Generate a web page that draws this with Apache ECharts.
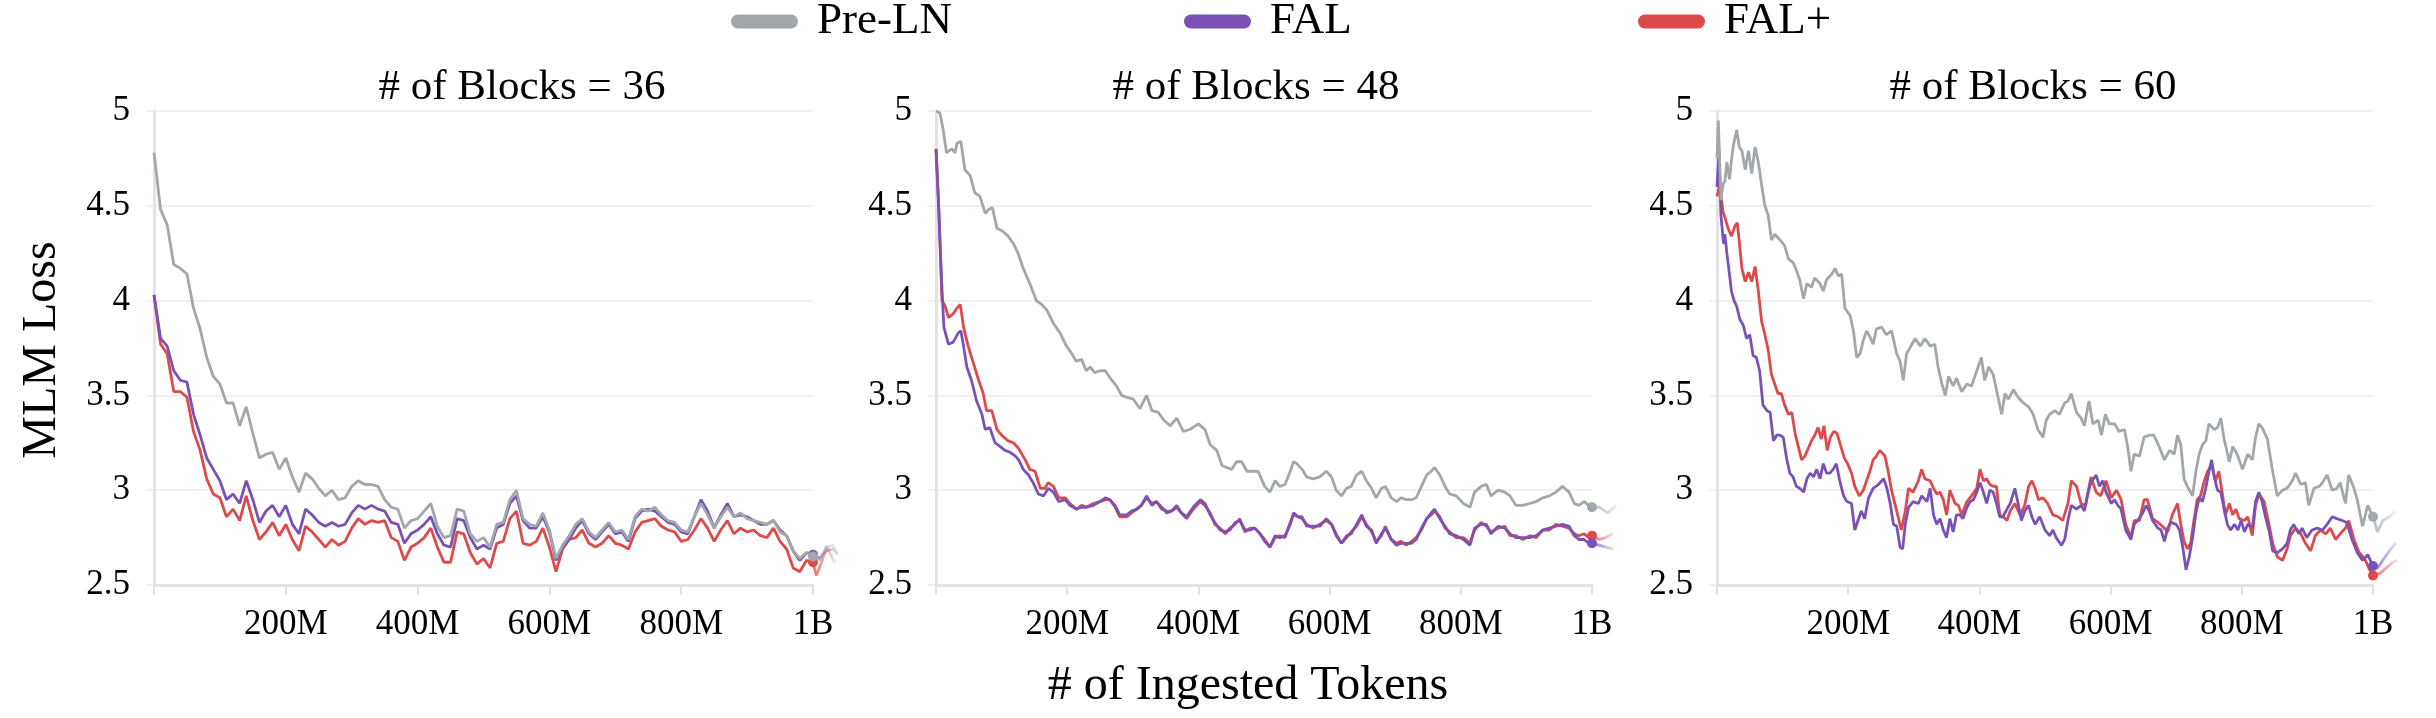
<!DOCTYPE html>
<html><head><meta charset="utf-8">
<script src="https://cdn.jsdelivr.net/npm/echarts/dist/echarts.min.js"></script>
<style>html,body{margin:0;padding:0;background:#fff}#c{width:2436px;height:718px}</style>
</head><body><div id="c"></div>
<script>
// ---------- labels ----------
const seriesNames = ['Pre-LN', 'FAL', 'FAL+'];
const panelTitles = ['# of Blocks = 36', '# of Blocks = 48', '# of Blocks = 60'];
const xTickLabels = {200: '200M', 400: '400M', 600: '600M', 800: '800M', 1000: '1B'};
const yAxisTitle = 'MLM Loss';
const xAxisTitle = '# of Ingested Tokens';

// ---------- panel 1 (36 blocks): one sample every 10M tokens, 0..1000M ----------
const p1StepM = 10;
const p1PreLN = [4.78,4.48,4.40,4.19,4.17,4.14,3.96,3.85,3.70,3.60,
 3.56,3.46,3.46,3.34,3.44,3.30,3.17,3.19,3.20,3.11,
 3.17,3.07,2.99,3.09,3.06,3.01,2.97,3.00,2.95,2.96,
 3.02,3.05,3.03,3.03,3.02,2.95,2.91,2.90,2.80,2.84,
 2.85,2.89,2.93,2.81,2.75,2.76,2.90,2.89,2.77,2.73,
 2.75,2.70,2.82,2.83,2.95,3.00,2.85,2.82,2.81,2.88,
 2.79,2.64,2.71,2.76,2.82,2.85,2.78,2.75,2.79,2.83,
 2.78,2.79,2.74,2.86,2.90,2.89,2.91,2.87,2.84,2.83,
 2.79,2.78,2.86,2.93,2.87,2.80,2.86,2.91,2.86,2.88,
 2.85,2.84,2.83,2.82,2.84,2.78,2.76,2.68,2.64,2.67,
 2.65];
const p1FAL = [4.03,3.80,3.76,3.63,3.58,3.57,3.40,3.29,3.17,3.11,
 3.05,2.95,2.98,2.93,3.05,2.95,2.83,2.89,2.92,2.86,
 2.92,2.82,2.77,2.90,2.87,2.83,2.81,2.83,2.81,2.82,
 2.88,2.92,2.90,2.92,2.90,2.89,2.83,2.82,2.72,2.77,
 2.79,2.82,2.86,2.77,2.71,2.70,2.85,2.84,2.75,2.69,
 2.71,2.69,2.80,2.82,2.93,2.97,2.84,2.80,2.80,2.86,
 2.78,2.63,2.70,2.74,2.80,2.84,2.77,2.74,2.78,2.82,
 2.77,2.78,2.73,2.85,2.89,2.90,2.89,2.86,2.83,2.82,
 2.78,2.77,2.86,2.95,2.89,2.80,2.87,2.93,2.86,2.87,
 2.86,2.84,2.82,2.82,2.84,2.79,2.76,2.68,2.63,2.67,
 2.66];
const p1FALplus = [4.03,3.77,3.72,3.52,3.52,3.49,3.31,3.21,3.06,2.98,
 2.96,2.86,2.90,2.84,2.97,2.84,2.74,2.78,2.83,2.76,
 2.82,2.74,2.68,2.81,2.78,2.74,2.70,2.74,2.71,2.73,
 2.80,2.85,2.82,2.84,2.83,2.84,2.75,2.73,2.63,2.70,
 2.72,2.75,2.80,2.70,2.62,2.62,2.78,2.77,2.67,2.61,
 2.64,2.59,2.72,2.73,2.85,2.89,2.72,2.71,2.73,2.80,
 2.70,2.57,2.69,2.74,2.75,2.79,2.72,2.70,2.72,2.76,
 2.72,2.71,2.69,2.78,2.83,2.84,2.85,2.81,2.79,2.78,
 2.73,2.74,2.79,2.85,2.80,2.73,2.79,2.84,2.77,2.80,
 2.78,2.79,2.76,2.75,2.80,2.73,2.69,2.59,2.57,2.63,
 2.62];
// faded continuation past 1B, [M tokens, loss]
const p1PreLNTail = [[1000,2.65],[1010,2.63],[1020,2.70],[1030,2.71],[1038,2.67]];
const p1FALTail = [[1000,2.66],[1010,2.64],[1020,2.68],[1030,2.69],[1038,2.66]];
const p1FALplusTail = [[1000,2.62],[1005,2.55],[1012,2.61],[1021,2.70],[1033,2.62]];

// ---------- panel 2 (48 blocks): [M tokens, loss] ----------
const p2PreLN = [[0,5.0],[6,4.99],[11,4.90],[16,4.78],[24,4.80],[29,4.78],[32,4.83],[38,4.84],[44,4.69],[52,4.66],[59,4.57],[67,4.55],[75,4.46],[80,4.48],[86,4.49],[93,4.38],[100,4.37],[110,4.34],[118,4.30],[125,4.25],[133,4.17],[143,4.09],[153,4.00],[161,3.98],[169,3.95],[179,3.88],[189,3.83],[199,3.76],[207,3.72],[214,3.68],[222,3.69],[229,3.63],[235,3.65],[242,3.62],[250,3.63],[258,3.63],[268,3.58],[275,3.55],[283,3.50],[291,3.49],[301,3.48],[311,3.43],[321,3.50],[329,3.42],[339,3.41],[347,3.37],[357,3.34],[367,3.38],[377,3.31],[387,3.32],[400,3.35],[410,3.32],[418,3.24],[428,3.21],[436,3.13],[443,3.12],[451,3.11],[458,3.15],[466,3.15],[474,3.10],[481,3.10],[491,3.10],[501,3.02],[509,2.99],[517,3.05],[524,3.02],[532,3.03],[540,3.10],[545,3.15],[550,3.14],[558,3.11],[565,3.07],[575,3.06],[585,3.07],[595,3.10],[603,3.07],[610,3.00],[618,2.97],[626,3.01],[633,3.02],[641,3.08],[649,3.10],[656,3.05],[664,3.01],[671,2.96],[679,3.01],[685,3.02],[694,2.96],[702,2.94],[709,2.96],[717,2.95],[725,2.95],[732,2.96],[740,3.02],[748,3.08],[755,3.10],[760,3.12],[768,3.08],[776,3.02],[783,2.98],[793,2.97],[804,2.93],[814,2.91],[821,2.99],[831,3.02],[839,3.03],[846,2.97],[857,3.00],[867,2.99],[875,2.97],[884,2.92],[895,2.92],[905,2.93],[915,2.94],[925,2.96],[935,2.97],[945,2.99],[955,3.02],[965,2.99],[973,2.93],[980,2.92],[988,2.94],[995,2.92],[1000,2.91]];
const p2FAL = [[0,4.80],[4,4.49],[9,4.07],[12,3.86],[19,3.77],[26,3.78],[34,3.83],[38,3.84],[42,3.76],[47,3.65],[54,3.58],[62,3.47],[70,3.40],[75,3.32],[82,3.33],[90,3.25],[98,3.23],[105,3.21],[113,3.20],[121,3.18],[126,3.16],[133,3.11],[141,3.08],[148,3.04],[156,2.98],[164,2.97],[171,3.01],[179,2.99],[187,2.94],[197,2.95],[204,2.92],[214,2.90],[222,2.91],[229,2.91],[240,2.92],[250,2.94],[258,2.96],[265,2.95],[273,2.92],[280,2.87],[291,2.87],[298,2.89],[306,2.90],[313,2.92],[321,2.97],[329,2.92],[336,2.94],[344,2.91],[352,2.88],[359,2.89],[367,2.92],[374,2.88],[382,2.86],[392,2.91],[403,2.95],[410,2.93],[418,2.87],[425,2.83],[433,2.79],[441,2.78],[448,2.79],[456,2.83],[463,2.84],[471,2.79],[479,2.79],[486,2.80],[494,2.77],[501,2.73],[509,2.70],[517,2.76],[524,2.75],[532,2.76],[540,2.82],[545,2.88],[552,2.86],[558,2.86],[565,2.81],[575,2.81],[585,2.81],[595,2.85],[603,2.82],[610,2.76],[618,2.72],[626,2.76],[633,2.77],[641,2.82],[649,2.87],[656,2.81],[664,2.79],[671,2.72],[679,2.77],[685,2.80],[694,2.74],[702,2.71],[709,2.72],[717,2.72],[725,2.72],[732,2.74],[740,2.80],[748,2.85],[755,2.88],[760,2.90],[768,2.85],[776,2.81],[783,2.77],[793,2.76],[804,2.74],[814,2.71],[821,2.80],[831,2.82],[839,2.82],[846,2.77],[857,2.81],[867,2.80],[875,2.77],[884,2.75],[895,2.75],[905,2.75],[915,2.76],[925,2.79],[935,2.80],[945,2.81],[955,2.82],[965,2.81],[973,2.76],[980,2.74],[988,2.74],[995,2.72],[1000,2.72]];
const p2FALplus = [[0,4.80],[4,4.52],[9,4.00],[14,3.97],[19,3.91],[26,3.93],[32,3.96],[37,3.98],[42,3.86],[49,3.76],[57,3.67],[65,3.58],[72,3.51],[77,3.42],[85,3.42],[93,3.32],[100,3.29],[110,3.26],[118,3.25],[126,3.22],[136,3.16],[143,3.11],[151,3.10],[159,3.01],[166,3.01],[171,3.04],[179,3.02],[187,2.96],[197,2.96],[204,2.93],[214,2.90],[222,2.92],[229,2.91],[240,2.93],[250,2.94],[258,2.95],[265,2.95],[273,2.91],[280,2.86],[291,2.86],[298,2.88],[306,2.90],[313,2.92],[321,2.96],[329,2.93],[336,2.94],[344,2.90],[352,2.89],[359,2.89],[367,2.91],[374,2.88],[382,2.85],[392,2.90],[403,2.94],[410,2.92],[418,2.88],[425,2.82],[433,2.80],[441,2.77],[448,2.80],[456,2.82],[463,2.85],[471,2.78],[479,2.80],[486,2.80],[494,2.77],[501,2.74],[509,2.70],[517,2.75],[524,2.76],[532,2.75],[540,2.83],[545,2.87],[552,2.86],[558,2.85],[565,2.82],[575,2.80],[585,2.82],[595,2.84],[603,2.82],[610,2.77],[618,2.72],[626,2.75],[633,2.78],[641,2.81],[649,2.86],[656,2.82],[664,2.78],[671,2.73],[679,2.76],[685,2.81],[694,2.74],[702,2.72],[709,2.73],[717,2.71],[725,2.73],[732,2.75],[740,2.79],[748,2.85],[755,2.87],[760,2.89],[768,2.86],[776,2.80],[783,2.78],[793,2.75],[804,2.75],[814,2.72],[821,2.79],[831,2.83],[839,2.81],[846,2.78],[857,2.80],[867,2.81],[875,2.76],[884,2.76],[895,2.74],[905,2.76],[915,2.75],[925,2.79],[935,2.79],[945,2.82],[955,2.81],[965,2.80],[973,2.77],[980,2.76],[988,2.77],[995,2.75],[1000,2.76]];
const p2PreLNTail = [[1000,2.91],[1011,2.91],[1024,2.88],[1037,2.92]];
const p2FALTail = [[1000,2.72],[1011,2.71],[1021,2.70],[1032,2.69]];
const p2FALplusTail = [[1000,2.76],[1011,2.74],[1021,2.75],[1032,2.77]];

// ---------- panel 3 (60 blocks): [M tokens, loss] ----------
const p3PreLN = [[0,4.75],[2,4.95],[6,4.53],[9,4.61],[12,4.63],[15,4.73],[19,4.64],[22,4.74],[25,4.82],[30,4.90],[34,4.81],[38,4.79],[43,4.69],[48,4.79],[53,4.67],[58,4.81],[63,4.73],[68,4.61],[73,4.50],[78,4.45],[83,4.32],[88,4.35],[96,4.32],[103,4.29],[109,4.22],[116,4.20],[121,4.16],[126,4.11],[132,4.01],[137,4.09],[144,4.07],[149,4.12],[157,4.09],[162,4.05],[167,4.11],[175,4.14],[180,4.17],[185,4.13],[190,4.14],[195,3.96],[203,3.92],[208,3.84],[213,3.70],[218,3.72],[223,3.79],[228,3.84],[233,3.81],[238,3.77],[243,3.85],[251,3.86],[258,3.82],[266,3.84],[274,3.72],[279,3.68],[284,3.58],[289,3.72],[294,3.75],[302,3.80],[310,3.76],[317,3.80],[325,3.76],[332,3.77],[337,3.65],[343,3.56],[348,3.50],[353,3.60],[360,3.55],[365,3.59],[373,3.52],[381,3.56],[388,3.55],[393,3.60],[398,3.65],[403,3.70],[408,3.58],[414,3.65],[421,3.61],[426,3.53],[434,3.40],[439,3.51],[444,3.48],[452,3.53],[459,3.49],[467,3.46],[475,3.44],[482,3.40],[489,3.32],[497,3.28],[502,3.37],[507,3.40],[515,3.42],[522,3.40],[530,3.46],[535,3.47],[540,3.51],[548,3.41],[555,3.38],[560,3.34],[567,3.47],[573,3.35],[581,3.37],[586,3.29],[592,3.40],[598,3.35],[606,3.35],[613,3.31],[621,3.32],[626,3.23],[631,3.10],[636,3.19],[644,3.18],[651,3.28],[659,3.29],[666,3.29],[674,3.23],[682,3.16],[690,3.21],[697,3.19],[702,3.29],[707,3.24],[712,3.06],[717,3.02],[725,2.97],[730,3.10],[735,3.19],[740,3.24],[745,3.26],[750,3.35],[758,3.32],[763,3.33],[768,3.38],[773,3.27],[781,3.15],[786,3.23],[793,3.19],[801,3.11],[809,3.19],[816,3.16],[821,3.28],[826,3.35],[831,3.33],[839,3.27],[846,3.12],[854,2.97],[862,3.00],[869,3.01],[877,3.05],[882,3.09],[890,3.03],[897,3.04],[902,2.92],[910,3.01],[918,3.02],[923,3.04],[930,3.08],[938,3.00],[945,3.01],[950,3.04],[958,2.93],[963,3.08],[971,3.01],[976,2.95],[984,2.81],[992,2.92],[1000,2.86]];
const p3FAL = [[0,4.60],[3,4.79],[6,4.45],[10,4.30],[12,4.35],[15,4.25],[19,4.14],[22,4.05],[26,4.00],[30,3.97],[35,3.90],[40,3.87],[45,3.80],[50,3.82],[55,3.71],[60,3.70],[65,3.63],[70,3.45],[76,3.42],[81,3.41],[86,3.26],[91,3.29],[96,3.29],[101,3.28],[106,3.17],[111,3.09],[116,3.07],[121,3.02],[126,3.01],[132,2.99],[137,3.06],[142,3.09],[147,3.07],[152,3.11],[157,3.06],[162,3.14],[167,3.09],[172,3.09],[177,3.11],[182,3.14],[187,3.05],[193,2.97],[198,2.94],[205,2.93],[210,2.79],[215,2.84],[220,2.89],[225,2.85],[231,2.96],[238,3.01],[246,3.03],[254,3.06],[259,3.01],[264,2.93],[269,2.82],[274,2.81],[279,2.70],[283,2.69],[287,2.82],[292,2.91],[299,2.94],[307,2.93],[312,2.97],[320,2.94],[325,3.01],[330,2.87],[335,2.82],[340,2.85],[345,2.79],[350,2.75],[355,2.85],[360,2.78],[365,2.87],[370,2.87],[375,2.85],[381,2.91],[386,2.94],[391,2.95],[396,2.99],[401,3.04],[406,2.99],[411,2.93],[416,3.00],[421,2.99],[426,2.93],[431,2.86],[436,2.86],[442,2.90],[447,2.93],[454,3.01],[459,2.93],[464,2.84],[469,2.89],[475,2.92],[480,2.86],[485,2.82],[492,2.86],[500,2.79],[507,2.76],[512,2.79],[517,2.75],[525,2.71],[530,2.74],[535,2.84],[540,2.92],[548,2.90],[555,2.92],[560,2.89],[565,2.98],[570,3.04],[578,3.08],[583,3.02],[588,3.05],[593,2.99],[601,2.93],[606,2.95],[611,2.92],[616,2.90],[623,2.79],[631,2.74],[636,2.82],[641,2.84],[649,2.88],[654,2.92],[659,2.89],[664,2.84],[672,2.80],[677,2.79],[682,2.73],[687,2.80],[692,2.83],[700,2.82],[705,2.79],[710,2.70],[715,2.58],[720,2.65],[725,2.75],[730,2.88],[735,2.96],[740,2.94],[745,3.01],[750,3.10],[754,3.16],[758,3.07],[763,3.00],[768,2.99],[773,2.90],[778,2.82],[783,2.79],[789,2.82],[794,2.79],[799,2.84],[804,2.78],[809,2.82],[816,2.80],[821,2.94],[826,2.99],[831,2.94],[836,2.86],[842,2.78],[847,2.68],[854,2.67],[862,2.69],[869,2.72],[874,2.79],[879,2.82],[887,2.77],[892,2.80],[899,2.75],[907,2.79],[915,2.80],[923,2.79],[930,2.82],[938,2.86],[945,2.85],[953,2.84],[960,2.83],[968,2.74],[976,2.67],[984,2.63],[992,2.66],[1000,2.60]];
const p3FALplus = [[0,4.55],[4,4.61],[9,4.47],[12,4.44],[17,4.38],[22,4.34],[27,4.39],[31,4.41],[34,4.31],[38,4.17],[43,4.10],[48,4.15],[53,4.10],[58,4.18],[63,4.05],[68,3.89],[73,3.82],[78,3.74],[83,3.61],[88,3.56],[93,3.51],[98,3.51],[103,3.45],[109,3.40],[114,3.41],[119,3.30],[124,3.23],[129,3.16],[134,3.18],[139,3.22],[144,3.26],[149,3.29],[154,3.33],[159,3.27],[163,3.34],[168,3.21],[173,3.28],[178,3.31],[183,3.30],[188,3.24],[194,3.17],[199,3.14],[205,3.09],[210,3.02],[217,2.97],[223,3.00],[228,3.05],[233,3.10],[238,3.16],[243,3.18],[248,3.21],[256,3.18],[261,3.10],[266,3.00],[274,2.89],[281,2.79],[287,2.89],[292,3.01],[299,2.99],[307,3.05],[312,3.11],[317,3.06],[325,3.05],[330,3.01],[335,2.98],[340,2.99],[345,2.95],[350,2.87],[355,3.00],[363,2.93],[368,2.92],[373,2.87],[381,2.94],[388,2.97],[396,3.01],[401,3.11],[406,3.05],[411,3.06],[416,3.03],[421,3.02],[426,3.02],[431,2.87],[436,2.86],[442,2.84],[447,2.89],[454,2.93],[462,2.87],[469,2.92],[475,3.02],[480,3.05],[485,3.01],[490,2.95],[497,2.96],[504,2.93],[512,2.87],[520,2.86],[527,2.84],[535,2.93],[540,3.05],[548,3.02],[555,2.93],[562,2.92],[570,3.07],[578,2.99],[585,2.97],[593,3.05],[601,2.96],[609,3.00],[616,2.95],[623,2.82],[631,2.75],[636,2.84],[644,2.84],[651,2.95],[656,2.95],[664,2.85],[672,2.83],[679,2.81],[687,2.78],[694,2.87],[702,2.93],[707,2.82],[712,2.73],[717,2.69],[722,2.72],[727,2.84],[732,2.95],[737,2.97],[743,3.05],[748,3.10],[754,3.13],[760,3.05],[765,3.10],[770,2.99],[775,2.87],[781,2.93],[786,2.87],[791,2.90],[796,2.85],[804,2.84],[809,2.86],[816,2.76],[821,2.92],[826,2.98],[834,2.94],[842,2.81],[847,2.72],[854,2.65],[862,2.63],[869,2.69],[874,2.76],[882,2.80],[890,2.77],[897,2.72],[905,2.68],[912,2.76],[920,2.79],[928,2.77],[935,2.80],[943,2.74],[950,2.77],[958,2.80],[963,2.84],[971,2.74],[979,2.67],[987,2.64],[995,2.58],[1000,2.55]];
const p3PreLNTail = [[1000,2.86],[1007,2.78],[1015,2.84],[1025,2.86],[1035,2.89]];
const p3FALTail = [[1000,2.60],[1007,2.59],[1015,2.63],[1025,2.68],[1035,2.72]];
const p3FALplusTail = [[1000,2.55],[1010,2.56],[1020,2.59],[1030,2.62],[1037,2.63]];

// ---------- build ----------
const FONT = 'Liberation Serif';
const colors = {'Pre-LN': [161,167,170], 'FAL': [122,82,181], 'FAL+': [221,74,75]};
const rgba = (c, a) => 'rgba(' + c[0] + ',' + c[1] + ',' + c[2] + ',' + a + ')';

const p1Pairs = arr => arr.map((v, i) => [i * p1StepM, v]);
const panels = [
  {'Pre-LN': p1Pairs(p1PreLN), 'FAL': p1Pairs(p1FAL), 'FAL+': p1Pairs(p1FALplus),
   tails: {'Pre-LN': p1PreLNTail, 'FAL': p1FALTail, 'FAL+': p1FALplusTail}},
  {'Pre-LN': p2PreLN, 'FAL': p2FAL, 'FAL+': p2FALplus,
   tails: {'Pre-LN': p2PreLNTail, 'FAL': p2FALTail, 'FAL+': p2FALplusTail}},
  {'Pre-LN': p3PreLN, 'FAL': p3FAL, 'FAL+': p3FALplus,
   tails: {'Pre-LN': p3PreLNTail, 'FAL': p3FALTail, 'FAL+': p3FALplusTail}}
];

const gridBoxes = [
  {left: 154, top: 111, width: 659, height: 474},
  {left: 936, top: 111, width: 656, height: 474},
  {left: 1717, top: 111, width: 656, height: 474}
];
const TAIL_MAX = 1050;
// invisible overlay grids that extend past 1B so the faded tails can be drawn
const tailBoxes = gridBoxes.map(g => ({left: g.left, top: g.top, height: g.height, width: g.width * TAIL_MAX / 1000}));
const titlePos = [[522, 88], [1256, 88], [2033, 88]];

const LW = 2.8;
const drawOrder = ['FAL+', 'FAL', 'Pre-LN'];
const series = [];
panels.forEach((p, gi) => {
  drawOrder.forEach((name, k) => {
    series.push({
      type: 'line', name, xAxisIndex: gi, yAxisIndex: gi, data: p[name],
      symbol: 'none', showSymbol: false, silent: true, z: 2 + k,
      lineStyle: {color: rgba(colors[name], 1), width: LW},
      itemStyle: {color: rgba(colors[name], 1)},
      emphasis: {disabled: true}
    });
  });
});
panels.forEach((p, gi) => {
  drawOrder.forEach((name, k) => {
    const t = p.tails[name];
    const data = t.map((pt, i) => i === 0 ? {value: pt, symbol: 'circle', symbolSize: 10} : {value: pt, symbol: 'none'});
    series.push({
      type: 'line', name, xAxisIndex: 3 + gi, yAxisIndex: 3 + gi, data,
      symbol: 'none', showSymbol: true, clip: false, silent: true, z: 2 + k,
      lineStyle: {width: LW, color: new echarts.graphic.LinearGradient(0, 0, 1, 0, [
        {offset: 0, color: rgba(colors[name], 0.85)}, {offset: 1, color: rgba(colors[name], 0.12)}])},
      itemStyle: {color: rgba(colors[name], 1)},
      emphasis: {disabled: true}
    });
  });
});

const axisGray = '#e3e3e7';
const xAxes = gridBoxes.map((g, gi) => ({
  type: 'value', gridIndex: gi, min: 0, max: 1000, interval: 200,
  axisLine: {show: true, lineStyle: {color: axisGray, width: 3}},
  axisTick: {show: true, length: 10, lineStyle: {color: axisGray, width: 2}},
  splitLine: {show: false},
  axisLabel: {margin: 22, fontSize: 35, fontFamily: FONT, color: '#000',
    formatter: v => xTickLabels[v] || ''}
}));
const yAxes = gridBoxes.map((g, gi) => ({
  type: 'value', gridIndex: gi, min: 2.5, max: 5, interval: 0.5,
  axisLine: {show: true, lineStyle: {color: axisGray, width: 3}},
  axisTick: {show: true, length: 8, lineStyle: {color: '#ececec', width: 1.5}},
  splitLine: {show: true, lineStyle: {color: '#ededed', width: 1.5}},
  axisLabel: {margin: 24, fontSize: 35, fontFamily: FONT, color: '#000'}
}));
tailBoxes.forEach((g, gi) => {
  xAxes.push({type: 'value', gridIndex: 3 + gi, min: 0, max: TAIL_MAX, show: false});
  yAxes.push({type: 'value', gridIndex: 3 + gi, min: 2.5, max: 5, show: false});
});

const pill = 'path://M7,0L60,0A7,7,0,0,1,60,14L7,14A7,7,0,0,1,7,0Z';
const legendLeft = [731, 1184, 1638];
const legends = seriesNames.map((name, i) => ({
  data: [name], left: legendLeft[i], top: -1, orient: 'horizontal', padding: 0,
  icon: pill, itemWidth: 67, itemHeight: 14, selectedMode: false,
  itemStyle: {borderWidth: 0},
  textStyle: {fontSize: 45, fontFamily: FONT, color: '#000', padding: [0, 0, 0, 14]}
}));

const graphics = panelTitles.map((t, i) => ({
  type: 'text', x: titlePos[i][0], y: titlePos[i][1], silent: true,
  style: {text: t, fontSize: 43, fontFamily: FONT, fill: '#000', align: 'center', verticalAlign: 'middle'}
}));
graphics.push({type: 'text', x: 42, y: 350, rotation: Math.PI / 2, silent: true,
  style: {text: yAxisTitle, fontSize: 48, fontFamily: FONT, fill: '#000', align: 'center', verticalAlign: 'middle'}});
graphics.push({type: 'text', x: 1248, y: 686, silent: true,
  style: {text: xAxisTitle, fontSize: 48, fontFamily: FONT, fill: '#000', align: 'center', verticalAlign: 'middle'}});

const chart = echarts.init(document.getElementById('c'), null, {renderer: 'canvas'});
chart.setOption({
  animation: false,
  backgroundColor: '#fff',
  textStyle: {fontFamily: FONT},
  legend: legends,
  grid: gridBoxes.concat(tailBoxes).map(g => Object.assign({outerBoundsMode: 'none', containLabel: false}, g)),
  xAxis: xAxes,
  yAxis: yAxes,
  series,
  graphic: graphics
});
</script></body></html>
